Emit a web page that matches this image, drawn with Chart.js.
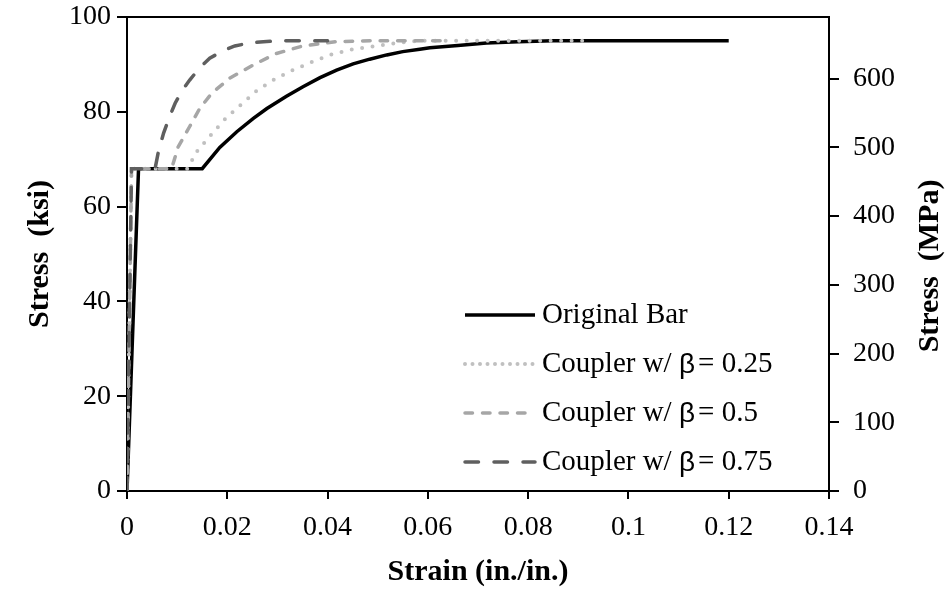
<!DOCTYPE html>
<html>
<head>
<meta charset="utf-8">
<script src="https://cdn.jsdelivr.net/npm/chart.js@4"></script>
<style>
  body { margin: 0; background: #fff; }
  #wrap { width: 945px; height: 594px; }
</style>
</head>
<body>
<div id="wrap"><canvas id="stressChart" width="945" height="594"></canvas></div>
<script>
// Stress-strain data (strain in in./in., stress in ksi)
const strainOriginal = [0, 0.0023, 0.015, 0.0185, 0.0219, 0.0252, 0.0279, 0.0318, 0.0351, 0.0385, 0.0418, 0.0451, 0.0484, 0.0518, 0.055, 0.0584, 0.0604, 0.066, 0.0717, 0.078, 0.0849, 0.12];
const stressOriginal = [0, 68, 68, 72.5, 75.8, 78.6, 80.7, 83.3, 85.3, 87.2, 88.8, 90.1, 91.1, 92.0, 92.7, 93.2, 93.5, 94.0, 94.5, 94.8, 95, 95];

const strain025 = [0, 0.0009, 0.0122, 0.0136, 0.0149, 0.0164, 0.0179, 0.0194, 0.0209, 0.0224, 0.0241, 0.0258, 0.0277, 0.0295, 0.0331, 0.0371, 0.0411, 0.0451, 0.0497, 0.0537, 0.0584, 0.092];
const stress025 = [0, 68, 68, 71.2, 72.8, 74.7, 76.5, 78.3, 79.8, 81.2, 82.8, 84.4, 85.7, 86.9, 88.8, 90.6, 92.2, 93.2, 93.9, 94.5, 95, 95];

const strain050 = [0, 0.0009, 0.0089, 0.0102, 0.0125, 0.0145, 0.0169, 0.0205, 0.0252, 0.0298, 0.0351, 0.0418, 0.0484, 0.064];
const stress050 = [0, 68, 68, 72.6, 76.9, 80.7, 83.9, 87.1, 89.9, 92.3, 93.9, 94.8, 95, 95];

const strain075 = [0, 0.0009, 0.0056, 0.0063, 0.0073, 0.0085, 0.0096, 0.0110, 0.0125, 0.0145, 0.0165, 0.019, 0.0215, 0.0245, 0.0272, 0.031, 0.040];
const stress075 = [0, 68, 68, 71.8, 75.5, 79.0, 81.8, 84.5, 86.7, 89.3, 91.3, 92.8, 93.9, 94.5, 94.8, 95, 95];

const seriesNames = ['Original Bar', 'Coupler w/ β = 0.25', 'Coupler w/ β = 0.5', 'Coupler w/ β = 0.75'];
const ksiToMpa = 6.89476;

const serif = '"Liberation Serif", "Times New Roman", serif';
const tickSize = 28;
const titleSize = 30;

function toPoints(xs, ys) {
  return xs.map((x, i) => ({ x: x, y: ys[i] }));
}

// Legend drawn inside the plot area, lower right
const innerLegend = {
  id: 'innerLegend',
  afterDraw(chart) {
    const ctx = chart.ctx;
    const area = chart.chartArea;
    const x0 = area.left + 338;
    const lineLen = 70;
    const legendDash = [[], [0, 7.5], [7.5, 10], [13.5, 15.5]];
    chart.data.datasets.forEach((ds, i) => {
      const y = area.top + 298 + i * 49;
      ctx.save();
      ctx.strokeStyle = ds.borderColor;
      ctx.lineWidth = ds.borderWidth;
      ctx.lineCap = ds.borderCapStyle;
      ctx.setLineDash(legendDash[i]);
      ctx.beginPath();
      ctx.moveTo(x0, y);
      ctx.lineTo(x0 + lineLen, y);
      ctx.stroke();
      ctx.restore();

      ctx.save();
      ctx.fillStyle = '#000';
      ctx.textBaseline = 'middle';
      let tx = x0 + lineLen + 7;
      const name = seriesNames[i];
      const b = name.indexOf('β');
      ctx.font = '29px ' + serif;
      if (b < 0) {
        ctx.fillText(name, tx, y);
      } else {
        const before = name.slice(0, b);
        const after = name.slice(b + 1).trim();
        ctx.fillText(before, tx, y);
        tx += ctx.measureText(before).width;
        ctx.font = '28px "Liberation Sans", Arial, sans-serif';
        ctx.fillText('β', tx, y + 1);
        tx += ctx.measureText('β').width + 3;
        ctx.font = '29px ' + serif;
        ctx.fillText(after, tx, y);
      }
      ctx.restore();
    });
  }
};

// Top frame line and the right-hand title (reads bottom to top, like the left one)
const frameAndRightTitle = {
  id: 'frameAndRightTitle',
  afterDraw(chart) {
    const ctx = chart.ctx;
    const area = chart.chartArea;
    ctx.save();
    ctx.strokeStyle = '#000';
    ctx.lineWidth = 2;
    ctx.beginPath();
    ctx.moveTo(area.left, area.top);
    ctx.lineTo(area.right, area.top);
    ctx.stroke();

    ctx.translate(area.right + 101, (area.top + area.bottom) / 2 + 12);
    ctx.rotate(-Math.PI / 2);
    ctx.fillStyle = '#000';
    ctx.font = 'bold ' + titleSize + 'px ' + serif;
    ctx.textAlign = 'center';
    ctx.textBaseline = 'middle';
    ctx.fillText('Stress  (MPa)', 0, 0);
    ctx.restore();
  }
};

const axisGrid = {
  display: true,
  drawOnChartArea: false,
  drawTicks: true,
  tickLength: 10,
  color: '#000',
  lineWidth: 2
};

function noOverflow(s) {
  s.paddingTop = 0;
  s.paddingBottom = 0;
  s.paddingLeft = 0;
  s.paddingRight = 0;
}

const ctx = document.getElementById('stressChart').getContext('2d');
const stressChart = new Chart(ctx, {
  type: 'line',
  data: {
    datasets: [
      {
        label: seriesNames[0],
        data: toPoints(strainOriginal, stressOriginal),
        borderColor: '#000000',
        borderWidth: 3.5,
        borderCapStyle: 'butt',
        order: 4
      },
      {
        label: seriesNames[1],
        data: toPoints(strain025, stress025),
        borderColor: '#c0c0c0',
        borderWidth: 4,
        borderDash: [0, 10.5],
        borderCapStyle: 'round',
        order: 3
      },
      {
        label: seriesNames[2],
        data: toPoints(strain050, stress050),
        borderColor: '#a6a6a6',
        borderWidth: 3.5,
        borderDash: [7.5, 10],
        borderCapStyle: 'round',
        order: 2
      },
      {
        label: seriesNames[3],
        data: toPoints(strain075, stress075),
        borderColor: '#5f5f5f',
        borderWidth: 3.5,
        borderDash: [13.5, 15.5],
        borderCapStyle: 'round',
        order: 1
      }
    ]
  },
  options: {
    responsive: false,
    animation: false,
    devicePixelRatio: 1,
    layout: { padding: { top: 17, left: 0, right: 0, bottom: 0 } },
    elements: {
      point: { radius: 0 },
      line: { tension: 0, fill: false }
    },
    plugins: {
      legend: { display: false },
      tooltip: { enabled: false }
    },
    scales: {
      x: {
        type: 'linear',
        position: 'bottom',
        min: 0,
        max: 0.14,
        afterFit: s => { s.height = 103; noOverflow(s); },
        border: { color: '#000', width: 2 },
        grid: Object.assign({}, axisGrid, { tickLength: 8 }),
        ticks: {
          stepSize: 0.02,
          color: '#000',
          padding: 12,
          maxRotation: 0,
          font: { family: serif, size: tickSize },
          callback: v => String(parseFloat(v.toFixed(2)))
        },
        title: {
          display: true,
          text: 'Strain (in./in.)',
          color: '#000',
          padding: { top: 0, bottom: 4 },
          font: { family: serif, size: titleSize, weight: 'bold' }
        }
      },
      y: {
        position: 'left',
        min: 0,
        max: 100,
        afterFit: s => { s.width = 127; noOverflow(s); },
        border: { color: '#000', width: 2 },
        grid: axisGrid,
        ticks: {
          stepSize: 20,
          color: '#000',
          padding: 6,
          font: { family: serif, size: tickSize }
        },
        title: {
          display: true,
          text: 'Stress  (ksi)',
          color: '#000',
          padding: { top: 22, bottom: 0 },
          font: { family: serif, size: titleSize, weight: 'bold' }
        }
      },
      y2: {
        position: 'right',
        min: 0,
        max: 100 * ksiToMpa,
        afterFit: s => { s.width = 116; noOverflow(s); },
        border: { color: '#000', width: 2 },
        grid: axisGrid,
        ticks: {
          stepSize: 100,
          includeBounds: false,
          color: '#000',
          padding: 14,
          font: { family: serif, size: tickSize }
        },
        title: { display: false }
      }
    }
  },
  plugins: [frameAndRightTitle, innerLegend]
});
</script>
</body>
</html>
